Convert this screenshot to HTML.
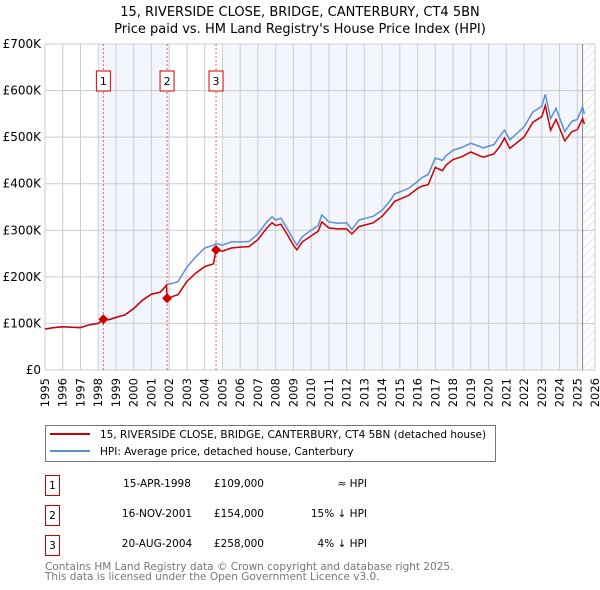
<!DOCTYPE html>
<html><head><meta charset="utf-8"><style>
body{margin:0;background:#fff;}
svg{display:block;font-family:"DejaVu Sans","Liberation Sans",sans-serif;}
</style></head><body>
<svg id="chart" width="600" height="590" viewBox="0 0 600 590" xmlns="http://www.w3.org/2000/svg">
<text x="300" y="16" text-anchor="middle" font-size="13">15, RIVERSIDE CLOSE, BRIDGE, CANTERBURY, CT4 5BN</text>
<text x="300" y="33" text-anchor="middle" font-size="13">Price paid vs. HM Land Registry's House Price Index (HPI)</text>
<defs><pattern id="hatch" patternUnits="userSpaceOnUse" width="6" height="6" patternTransform="rotate(45)"><line x1="0" y1="0" x2="0" y2="6" stroke="#ccc" stroke-width="1"/></pattern></defs>
<g id="bg"></g>
<g id="grid"></g>
<g id="lines"></g>
<g id="marks"></g>
<g id="axes"></g>
<g>
<rect x="45.5" y="425.5" width="450" height="36" fill="#fff" stroke="#777"/>
<line x1="50" y1="434" x2="90" y2="434" stroke="#cc0000" stroke-width="2"/>
<text x="100" y="438" font-size="10.5">15, RIVERSIDE CLOSE, BRIDGE, CANTERBURY, CT4 5BN (detached house)</text>
<line x1="50" y1="451" x2="90" y2="451" stroke="#5b8fd6" stroke-width="2"/>
<text x="100" y="455" font-size="10.5">HPI: Average price, detached house, Canterbury</text>
</g>
<g font-size="10.5">
<rect x="45.5" y="475.5" width="14" height="20" fill="#fff" stroke="#cc0000"/><text x="52.5" y="489" text-anchor="middle">1</text>
<text x="157" y="487" text-anchor="middle">15-APR-1998</text><text x="264" y="487" text-anchor="end">£109,000</text><text x="367" y="487" text-anchor="end">≈ HPI</text>
<rect x="45.5" y="505.5" width="14" height="20" fill="#fff" stroke="#cc0000"/><text x="52.5" y="519" text-anchor="middle">2</text>
<text x="157" y="517" text-anchor="middle">16-NOV-2001</text><text x="264" y="517" text-anchor="end">£154,000</text><text x="367" y="517" text-anchor="end">15% ↓ HPI</text>
<rect x="45.5" y="535.5" width="14" height="20" fill="#fff" stroke="#cc0000"/><text x="52.5" y="549" text-anchor="middle">3</text>
<text x="157" y="547" text-anchor="middle">20-AUG-2004</text><text x="264" y="547" text-anchor="end">£258,000</text><text x="367" y="547" text-anchor="end">4% ↓ HPI</text>
</g>
<text x="45" y="570" font-size="10.5" fill="#777">Contains HM Land Registry data © Crown copyright and database right 2025.</text>
<text x="45" y="580" font-size="10.5" fill="#777">This data is licensed under the Open Government Licence v3.0.</text>
</svg>
<script>
const years = [1995,1995.5,1996,1996.5,1997,1997.5,1998,1998.29,1998.6,1999,1999.5,2000,2000.5,2001,2001.5,2001.85,2001.88,2002.2,2002.5,2003,2003.5,2004,2004.5,2004.64,2005,2005.5,2006,2006.5,2007,2007.5,2007.8,2008,2008.3,2008.7,2009,2009.2,2009.5,2010,2010.4,2010.6,2011,2011.5,2012,2012.3,2012.7,2013.5,2014,2014.5,2014.7,2015.5,2016,2016.2,2016.6,2017,2017.4,2017.6,2018,2018.5,2019,2019.5,2019.7,2020.3,2020.6,2020.9,2021.2,2022,2022.5,2023,2023.2,2023.5,2023.8,2024.3,2024.7,2025,2025.3,2025.4];
const hpiValues = [88,91,93,92,91,97,100,109,108,113,118,132,150,163,167,182,184,186,190,221,243,262,268,272,268,275,275,276,292,318,329,322,326,300,280,268,286,300,310,333,318,315,316,302,322,330,343,366,378,390,405,412,420,455,450,460,472,478,487,480,477,484,500,515,494,522,554,566,592,540,562,512,534,538,565,550];
const priceValues = [88,91,93,92,91,97,100,109,108,113,118,132,150,163,167,182,154,158,162,190,208,222,228,258,255,262,264,265,280,305,316,310,313,288,268,258,275,288,298,318,305,303,303,292,308,316,330,352,362,375,390,394,398,435,428,440,452,458,468,460,457,464,478,498,476,500,532,544,568,515,538,492,512,516,540,528];
const saleLabels = ["1","2","3"];
const saleYears = [1998.29,2001.88,2004.64];
const salePrices = [109,154,258];
const yTicks = [0,100,200,300,400,500,600,700];
const yTickLabels = ["£0","£100K","£200K","£300K","£400K","£500K","£600K","£700K"];
const xTicks = [1995,1996,1997,1998,1999,2000,2001,2002,2003,2004,2005,2006,2007,2008,2009,2010,2011,2012,2013,2014,2015,2016,2017,2018,2019,2020,2021,2022,2023,2024,2025,2026];

const NS="http://www.w3.org/2000/svg";
const L=45,R=595,T=44,B=370,X0=1995,X1=2026;
const xs=v=>L+(v-X0)/(X1-X0)*(R-L);
const ys=v=>B-v/700*(B-T);
function mk(tag,attrs,parent){const e=document.createElementNS(NS,tag);for(const k in attrs)e.setAttribute(k,attrs[k]);document.getElementById(parent).appendChild(e);return e;}
let s=mk('rect',{x:xs(1998),y:T,width:xs(2002)-xs(1998),height:B-T,fill:'#f3f6fd'},'bg');


s=mk('rect',{x:xs(2005),y:T,width:xs(2025.3)-xs(2005),height:B-T,fill:'#f3f6fd'},'bg');


s=mk('rect',{x:xs(2025.3),y:T,width:R-xs(2025.3),height:B-T,fill:'url(#hatch)'},'bg');


xTicks.forEach(t=>{const g=mk('line',{x1:xs(t),x2:xs(t),y1:T,y2:B,stroke:'#ccc','stroke-width':1},'grid');


const x=xs(t)+4,y=378;
const tx=mk('text',{x:x,y:y,'text-anchor':'end','font-size':11.5,transform:`rotate(-90 ${x} ${y})`},'axes');tx.textContent=t;

});
yTicks.forEach((t,i)=>{const g=mk('line',{x1:L,x2:R,y1:ys(t),y2:ys(t),stroke:'#ccc','stroke-width':1},'grid');


const tx=mk('text',{x:L-4,y:ys(t)+4,'text-anchor':'end','font-size':12},'axes');tx.textContent=yTickLabels[i];

});
let v=mk('line',{x1:xs(2025.3),x2:xs(2025.3),y1:T,y2:B,stroke:'#888','stroke-width':1},'grid');


saleYears.forEach((y,i)=>{const d=mk('line',{x1:xs(y),x2:xs(y),y1:T,y2:B,stroke:'#e06666','stroke-width':1,'stroke-dasharray':'2,2'},'grid');


const bx=mk('rect',{x:xs(y)-7,y:71,width:14,height:20,fill:'#fff',stroke:'#cc0000'},'marks');


const tx=mk('text',{x:xs(y),y:85,'text-anchor':'middle','font-size':11},'marks');tx.textContent=saleLabels[i];

});
const pts=a=>years.map((y,i)=>xs(y).toFixed(1)+','+ys(a[i]).toFixed(1)).join(' ');
let hp=mk('polyline',{points:pts(hpiValues),fill:'none',stroke:'#5b8fd6','stroke-width':1.5},'lines');


let pp=mk('polyline',{points:pts(priceValues),fill:'none',stroke:'#cc0000','stroke-width':1.5},'lines');


saleYears.forEach((y,i)=>{const cx=xs(y),cy=ys(salePrices[i]);
const d=mk('polygon',{points:`${cx},${cy-5} ${cx+5},${cy} ${cx},${cy+5} ${cx-5},${cy}`,fill:'#cc0000'},'marks');

});
</script>
</body></html>
